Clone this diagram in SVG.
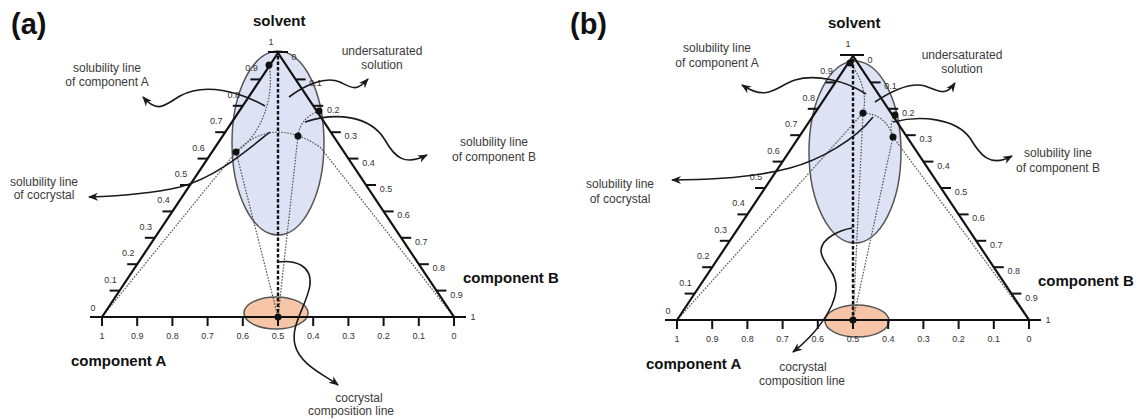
<svg xmlns="http://www.w3.org/2000/svg" width="1139" height="418" viewBox="0 0 1139 418">
<defs>
<style>
.edge{stroke:#111;stroke-width:2.2;fill:none;stroke-linejoin:miter}
.tick{stroke:#111;stroke-width:2;fill:none}
.num{font-family:"Liberation Sans",Arial,sans-serif;font-size:9px;fill:#333;text-anchor:middle}
.ann{font-family:"Liberation Sans",Arial,sans-serif;font-size:12px;fill:#3a3a3a;text-anchor:middle}
.ttl{font-family:"Liberation Sans",Arial,sans-serif;font-size:15px;font-weight:bold;fill:#111}
.pnl{font-family:"Liberation Sans",Arial,sans-serif;font-size:29px;font-weight:bold;fill:#111}
.dl{stroke:#555;stroke-width:1.2;stroke-dasharray:1.6 1.4;fill:none}
.cl{stroke:#111;stroke-width:2.4;stroke-dasharray:3.5 2;fill:none}
.arr{stroke:#1a1a1a;stroke-width:1.6;fill:none;marker-end:url(#ah)}
.blue{fill:#dde2f5;stroke:#555;stroke-width:1.5}
.orng{fill:#f6c4a6;stroke:#555;stroke-width:1.5}
.dot{fill:#111}
</style>
<marker id="ah" viewBox="0 0 10 10" refX="9" refY="5" markerWidth="10" markerHeight="10" markerUnits="userSpaceOnUse" orient="auto">
<path d="M0,1 L10,5 L0,9 L3,5 Z" fill="#1a1a1a"/>
</marker>
</defs>
<rect width="1139" height="418" fill="#fff"/>

<!-- ===== Panel (a) ===== -->
<g id="panel-a">
<text class="pnl" x="11" y="34">(a)</text>
<g id="a-regions">
<ellipse id="a-undersat-region" class="blue" cx="278" cy="143" rx="46" ry="92"/>
<ellipse id="a-cocrystal-region" class="orng" cx="276" cy="313" rx="32" ry="16"/>
</g>
<g id="a-phase-lines">
<path class="dl" d="M269,65 C275,95 262,135 236,152"/>
<path class="dl" d="M102,317 L236,152"/>
<path class="dl" d="M236,152 L278,317"/>
<path class="dl" d="M298,136 L278,317"/>
<path class="dl" d="M236,152 Q272,115 320,147 L454,317"/>
<path class="dl" d="M319,111 Q300,118 298,136"/>
</g>
<g id="a-triangle">
<path class="edge" d="M102,317 L278,53 L454,317 Z"/>
<line class="tick" x1="90" y1="317" x2="466" y2="317"/>
<line class="tick" x1="268" y1="52" x2="288" y2="52"/>
<g class="tick">
<line x1="109.6" y1="290.6" x2="119.6" y2="290.6"/>
<line x1="127.2" y1="264.2" x2="137.2" y2="264.2"/>
<line x1="144.8" y1="237.8" x2="154.8" y2="237.8"/>
<line x1="162.4" y1="211.4" x2="172.4" y2="211.4"/>
<line x1="180" y1="185" x2="190" y2="185"/>
<line x1="197.6" y1="158.6" x2="207.6" y2="158.6"/>
<line x1="215.2" y1="132.2" x2="225.2" y2="132.2"/>
<line x1="232.8" y1="105.8" x2="242.8" y2="105.8"/>
<line x1="250.4" y1="79.4" x2="260.4" y2="79.4"/>
<line x1="295.6" y1="79.4" x2="305.6" y2="79.4"/>
<line x1="313.2" y1="105.8" x2="323.2" y2="105.8"/>
<line x1="330.8" y1="132.2" x2="340.8" y2="132.2"/>
<line x1="348.4" y1="158.6" x2="358.4" y2="158.6"/>
<line x1="366" y1="185" x2="376" y2="185"/>
<line x1="383.6" y1="211.4" x2="393.6" y2="211.4"/>
<line x1="401.2" y1="237.8" x2="411.2" y2="237.8"/>
<line x1="418.8" y1="264.2" x2="428.8" y2="264.2"/>
<line x1="436.4" y1="290.6" x2="446.4" y2="290.6"/>
<line x1="102" y1="317" x2="102" y2="326"/>
<line x1="137.2" y1="317" x2="137.2" y2="326"/>
<line x1="172.4" y1="317" x2="172.4" y2="326"/>
<line x1="207.6" y1="317" x2="207.6" y2="326"/>
<line x1="242.8" y1="317" x2="242.8" y2="326"/>
<line x1="278" y1="317" x2="278" y2="326"/>
<line x1="313.2" y1="317" x2="313.2" y2="326"/>
<line x1="348.4" y1="317" x2="348.4" y2="326"/>
<line x1="383.6" y1="317" x2="383.6" y2="326"/>
<line x1="418.8" y1="317" x2="418.8" y2="326"/>
<line x1="454" y1="317" x2="454" y2="326"/>
</g>
<g class="num">
<text x="93" y="311">0</text>
<text x="110.6" y="282.6">0.1</text>
<text x="128.2" y="256.2">0.2</text>
<text x="145.8" y="229.8">0.3</text>
<text x="163.4" y="203.4">0.4</text>
<text x="181" y="177">0.5</text>
<text x="198.6" y="150.6">0.6</text>
<text x="216.2" y="124.2">0.7</text>
<text x="233.8" y="97.8">0.8</text>
<text x="251.4" y="71.4">0.9</text>
<text x="271" y="45">1</text>
<text x="294" y="60">0</text>
<text x="315.6" y="86.4">0.1</text>
<text x="333.2" y="112.8">0.2</text>
<text x="350.8" y="139.2">0.3</text>
<text x="368.4" y="165.6">0.4</text>
<text x="386" y="192">0.5</text>
<text x="403.6" y="218.4">0.6</text>
<text x="421.2" y="244.8">0.7</text>
<text x="438.8" y="271.2">0.8</text>
<text x="456.4" y="297.6">0.9</text>
<text x="473" y="320">1</text>
<text x="102" y="339">1</text>
<text x="137.2" y="339">0.9</text>
<text x="172.4" y="339">0.8</text>
<text x="207.6" y="339">0.7</text>
<text x="242.8" y="339">0.6</text>
<text x="278" y="339">0.5</text>
<text x="313.2" y="339">0.4</text>
<text x="348.4" y="339">0.3</text>
<text x="383.6" y="339">0.2</text>
<text x="418.8" y="339">0.1</text>
<text x="454" y="339">0</text>
</g>
</g>
<line class="cl" x1="278" y1="56" x2="278" y2="317"/>
<g id="a-points">
<circle class="dot" cx="269" cy="65" r="3.5"/>
<circle class="dot" cx="319" cy="111" r="3.5"/>
<circle class="dot" cx="298" cy="136" r="3.5"/>
<circle class="dot" cx="236" cy="152" r="3.5"/>
<circle class="dot" cx="278" cy="317" r="3.5"/>
</g>
<g id="a-titles">
<text class="ttl" x="253" y="26">solvent</text>
<text class="ttl" x="463" y="283">component B</text>
<text class="ttl" x="71" y="366">component A</text>
</g>
<g id="a-label-solA"><text class="ann" x="107" y="72">solubility line</text><text class="ann" x="107" y="86">of component A</text></g>
<g id="a-label-solCo"><text class="ann" x="44" y="186">solubility line</text><text class="ann" x="44" y="199">of cocrystal</text></g>
<g id="a-label-under"><text class="ann" x="382" y="55">undersaturated</text><text class="ann" x="382" y="69">solution</text></g>
<g id="a-label-solB"><text class="ann" x="494" y="146">solubility line</text><text class="ann" x="494" y="161">of component B</text></g>
<g id="a-label-comp"><text class="ann" x="359" y="402">cocrystal</text><text class="ann" x="351" y="415">composition line</text></g>
</g>

<!-- ===== Panel (b) ===== -->
<g id="panel-b">
<text class="pnl" x="570" y="34">(b)</text>
<g id="b-regions">
<ellipse id="b-undersat-region" class="blue" cx="855" cy="152" rx="46" ry="91"/>
<ellipse id="b-cocrystal-region" class="orng" cx="857" cy="321" rx="32" ry="16"/>
</g>
<g id="b-phase-lines">
<path class="dl" d="M850,63 C860,75 868,95 863,113"/>
<path class="dl" d="M677,320 L863,113"/>
<path class="dl" d="M863,113 L853,320"/>
<path class="dl" d="M893,137 L853,320"/>
<path class="dl" d="M863,113 Q886,114 893,137"/>
<path class="dl" d="M895,115 Q888,126 893,137"/>
<path class="dl" d="M893,137 L1029,320"/>
</g>
<g id="b-triangle" transform="translate(575,3)">
<path class="edge" d="M102,317 L278,53 L454,317 Z"/>
<line class="tick" x1="90" y1="317" x2="466" y2="317"/>
<line class="tick" x1="265" y1="52" x2="289" y2="52"/>
<g class="tick">
<line x1="109.6" y1="290.6" x2="119.6" y2="290.6"/>
<line x1="127.2" y1="264.2" x2="137.2" y2="264.2"/>
<line x1="144.8" y1="237.8" x2="154.8" y2="237.8"/>
<line x1="162.4" y1="211.4" x2="172.4" y2="211.4"/>
<line x1="180" y1="185" x2="190" y2="185"/>
<line x1="197.6" y1="158.6" x2="207.6" y2="158.6"/>
<line x1="215.2" y1="132.2" x2="225.2" y2="132.2"/>
<line x1="232.8" y1="105.8" x2="242.8" y2="105.8"/>
<line x1="250.4" y1="79.4" x2="260.4" y2="79.4"/>
<line x1="295.6" y1="79.4" x2="305.6" y2="79.4"/>
<line x1="313.2" y1="105.8" x2="323.2" y2="105.8"/>
<line x1="330.8" y1="132.2" x2="340.8" y2="132.2"/>
<line x1="348.4" y1="158.6" x2="358.4" y2="158.6"/>
<line x1="366" y1="185" x2="376" y2="185"/>
<line x1="383.6" y1="211.4" x2="393.6" y2="211.4"/>
<line x1="401.2" y1="237.8" x2="411.2" y2="237.8"/>
<line x1="418.8" y1="264.2" x2="428.8" y2="264.2"/>
<line x1="436.4" y1="290.6" x2="446.4" y2="290.6"/>
<line x1="102" y1="317" x2="102" y2="326"/>
<line x1="137.2" y1="317" x2="137.2" y2="326"/>
<line x1="172.4" y1="317" x2="172.4" y2="326"/>
<line x1="207.6" y1="317" x2="207.6" y2="326"/>
<line x1="242.8" y1="317" x2="242.8" y2="326"/>
<line x1="278" y1="317" x2="278" y2="326"/>
<line x1="313.2" y1="317" x2="313.2" y2="326"/>
<line x1="348.4" y1="317" x2="348.4" y2="326"/>
<line x1="383.6" y1="317" x2="383.6" y2="326"/>
<line x1="418.8" y1="317" x2="418.8" y2="326"/>
<line x1="454" y1="317" x2="454" y2="326"/>
</g>
<g class="num">
<text x="93" y="311">0</text>
<text x="110.6" y="282.6">0.1</text>
<text x="128.2" y="256.2">0.2</text>
<text x="145.8" y="229.8">0.3</text>
<text x="163.4" y="203.4">0.4</text>
<text x="181" y="177">0.5</text>
<text x="198.6" y="150.6">0.6</text>
<text x="216.2" y="124.2">0.7</text>
<text x="233.8" y="97.8">0.8</text>
<text x="251.4" y="71.4">0.9</text>
<text x="273" y="44">1</text>
<text x="295" y="60">0</text>
<text x="315.6" y="86.4">0.1</text>
<text x="333.2" y="112.8">0.2</text>
<text x="350.8" y="139.2">0.3</text>
<text x="368.4" y="165.6">0.4</text>
<text x="386" y="192">0.5</text>
<text x="403.6" y="218.4">0.6</text>
<text x="421.2" y="244.8">0.7</text>
<text x="438.8" y="271.2">0.8</text>
<text x="456.4" y="297.6">0.9</text>
<text x="473" y="320">1</text>
<text x="102" y="339">1</text>
<text x="137.2" y="339">0.9</text>
<text x="172.4" y="339">0.8</text>
<text x="207.6" y="339">0.7</text>
<text x="242.8" y="339">0.6</text>
<text x="278" y="339">0.5</text>
<text x="313.2" y="339">0.4</text>
<text x="348.4" y="339">0.3</text>
<text x="383.6" y="339">0.2</text>
<text x="418.8" y="339">0.1</text>
<text x="454" y="339">0</text>
</g>
</g>
<line class="cl" x1="853" y1="59" x2="853" y2="320"/>
<g id="b-points">
<circle class="dot" cx="850" cy="63" r="3.5"/>
<circle class="dot" cx="863" cy="113" r="3.5"/>
<circle class="dot" cx="895" cy="115" r="3.5"/>
<circle class="dot" cx="893" cy="137" r="3.5"/>
<circle class="dot" cx="853" cy="320" r="3.5"/>
</g>
<g id="b-titles">
<text class="ttl" x="828" y="28">solvent</text>
<text class="ttl" x="1038" y="286">component B</text>
<text class="ttl" x="646" y="369">component A</text>
</g>
<g id="b-label-solA"><text class="ann" x="717" y="52">solubility line</text><text class="ann" x="717" y="67">of component A</text></g>
<g id="b-label-solCo"><text class="ann" x="620" y="188">solubility line</text><text class="ann" x="620" y="203">of cocrystal</text></g>
<g id="b-label-under"><text class="ann" x="962" y="59">undersaturated</text><text class="ann" x="962" y="73">solution</text></g>
<g id="b-label-solB"><text class="ann" x="1058" y="157">solubility line</text><text class="ann" x="1058" y="172">of component B</text></g>
<g id="b-label-comp"><text class="ann" x="803" y="371">cocrystal</text><text class="ann" x="802" y="385">composition line</text></g>
</g>

<!-- ===== Connectors ===== -->
<g id="connectors">
<path id="a-arrow-solA" class="arr" d="M265,106 C240,92 205,82 180,96 C165,105 158,114 143,97"/>
<path id="a-arrow-solCo" class="arr" d="M270,132 C245,152 215,178 180,187 C150,194 120,196 89,197"/>
<path id="a-arrow-under" class="arr" d="M289,97 C305,85 325,76 340,82 C352,88 356,92 368,79"/>
<path id="a-arrow-solB" class="arr" d="M305,122 C335,112 370,115 385,140 C395,158 405,166 427,155"/>
<path id="a-arrow-comp" class="arr" d="M278,262 C295,260 312,265 310,285 C307,305 290,325 295,345 C300,365 325,375 338,385"/>
<path id="b-arrow-solA" class="arr" d="M866,94 C845,80 815,74 795,80 C775,87 768,102 742,85"/>
<path id="b-arrow-solCo" class="arr" d="M873,117 C855,140 820,160 790,168 C760,176 715,180 672,180"/>
<path id="b-arrow-under" class="arr" d="M875,102 C890,92 910,82 925,86 C940,91 945,97 955,83"/>
<path id="b-arrow-solB" class="arr" d="M893,122 C920,115 955,118 970,138 C980,155 990,168 1012,156"/>
<path id="b-arrow-comp" class="arr" d="M852,228 C840,230 822,238 821,250 C820,262 838,272 836,290 C834,310 815,335 793,352"/>
</g>
</svg>
